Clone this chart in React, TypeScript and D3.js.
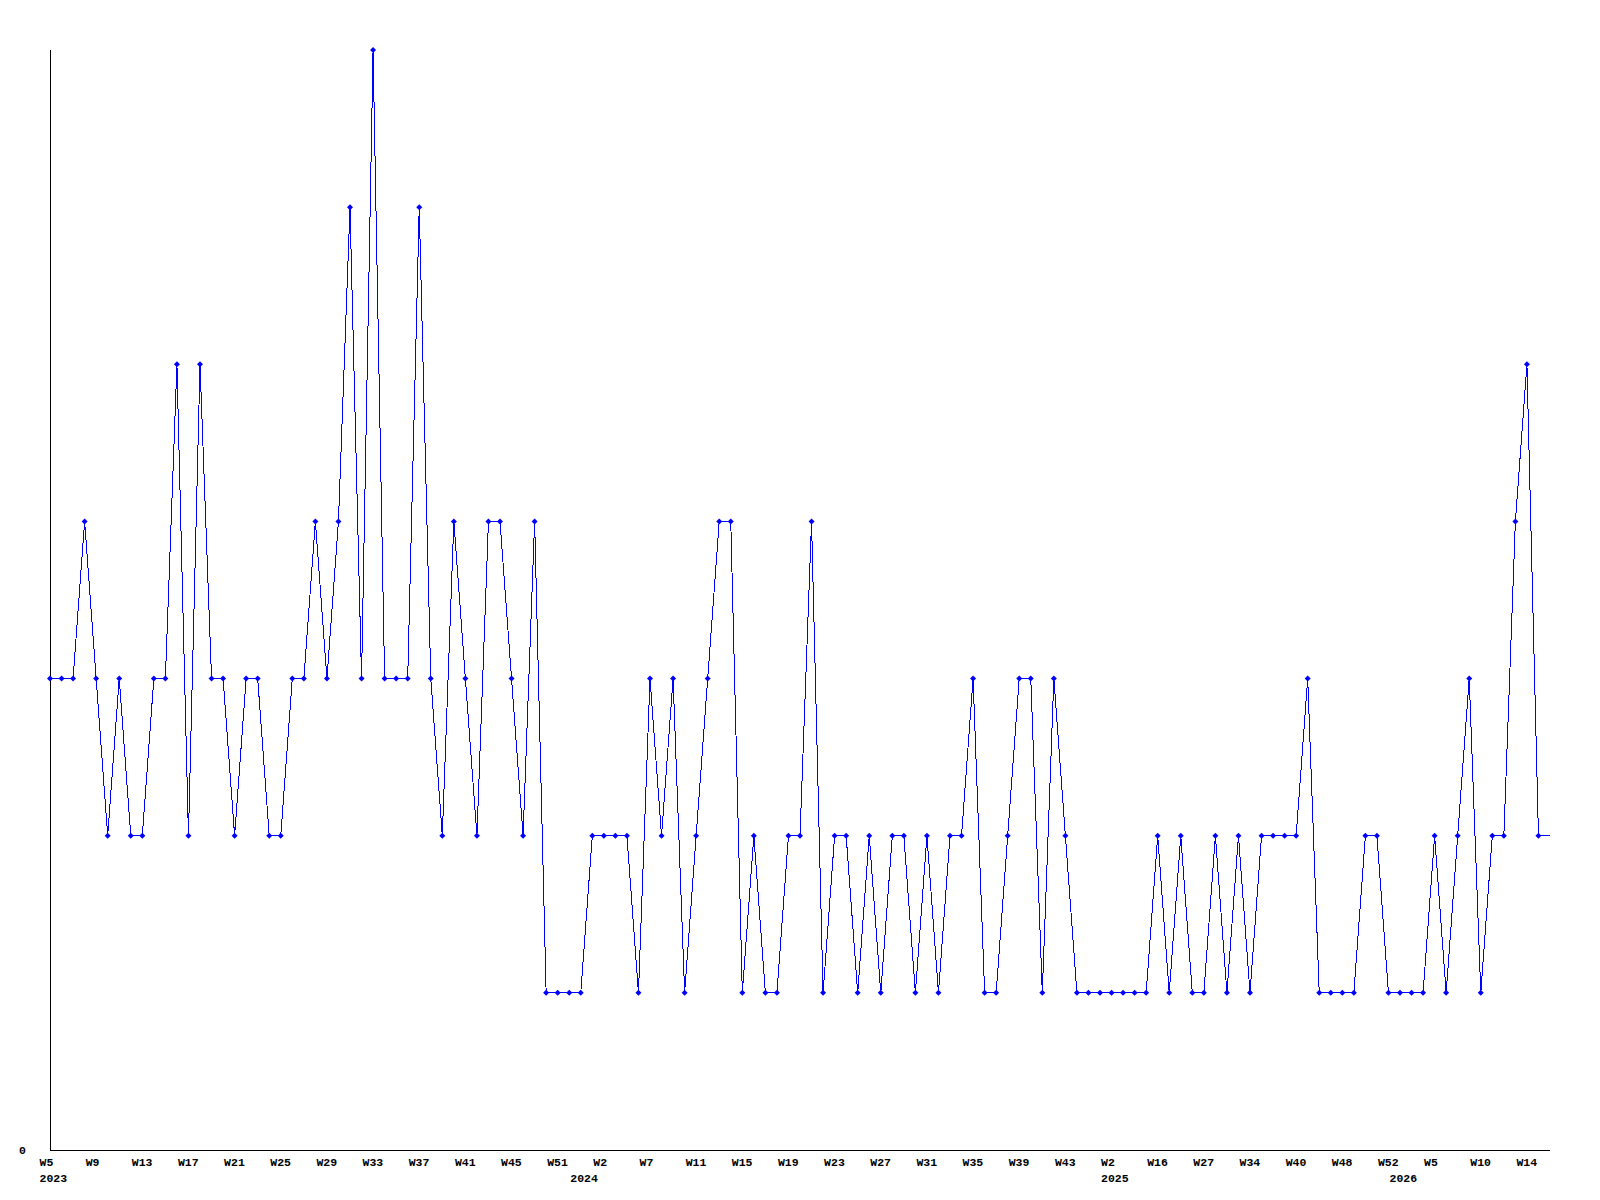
import React from "react";
import * as d3 from "d3";

// Weekly counts, one per data point (in order)
const values: number[] = [
  3, 3, 3, 4, 3, 2, 3, 2, 2, 3,
  3, 5, 2, 5, 3, 3, 2, 3, 3, 2,
  2, 3, 3, 4, 3, 4, 6, 3, 7, 3,
  3, 3, 6, 3, 2, 4, 3, 2, 4, 4,
  3, 2, 4, 1, 1, 1, 1, 2, 2, 2,
  2, 1, 3, 2, 3, 1, 2, 3, 4, 4,
  1, 2, 1, 1, 2, 2, 4, 1, 2, 2,
  1, 2, 1, 2, 2, 1, 2, 1, 2, 2,
  3, 1, 1, 2, 3, 3, 1, 3, 2, 1,
  1, 1, 1, 1, 1, 1, 2, 1, 2, 1,
  1, 2, 1, 2, 1, 2, 2, 2, 2, 3,
  1, 1, 1, 1, 2, 2, 1, 1, 1, 1,
  2, 1, 2, 3, 1, 2, 2, 4, 5, 2,
  2,
];

// Week tick labels, one every 4 data points
const weekTicks: string[] = [
  "W5", "W9", "W13", "W17", "W21", "W25", "W29", "W33", "W37", "W41", "W45",
  "W51", "W2", "W7", "W11", "W15", "W19", "W23", "W27", "W31", "W35", "W39", "W43",
  "W2", "W16", "W27", "W34", "W40", "W48", "W52", "W5", "W10", "W14",
];
const tickEvery = 4;

// Year labels and the data point where each year begins
const years: string[] = ["2023", "2024", "2025", "2026"];
const yearStart: number[] = [0, 46, 92, 117];

const yMax = 7;

export default function App() {
  const W = 1600, H = 1200;
  const left = 50, right = 1550, top = 50, bottom = 1150;
  const n = values.length;
  const x = d3.scaleLinear().domain([0, n - 1]).range([left, right]);
  const y = d3.scaleLinear().domain([0, yMax]).range([bottom, top]);
  const line = d3.line<number>().x((_, i) => x(i)).y((d) => y(d));
  const font = "'Liberation Mono', 'DejaVu Sans Mono', monospace";
  const blue = "#0000ff";
  return (
    <svg width={W} height={H} style={{ position: "absolute", left: 0, top: 0, background: "#fff" }}>
      <rect x={0} y={0} width={W} height={H} fill="#fff" />
      <line x1={left} y1={top} x2={left} y2={bottom} stroke="#000" strokeWidth={1} shapeRendering="crispEdges" />
      <line x1={left} y1={bottom} x2={right} y2={bottom} stroke="#000" strokeWidth={1} shapeRendering="crispEdges" />
      <text x={26} y={1154} textAnchor="end" fontFamily={font} fontWeight="bold" fontSize={11.5} fill="#000">0</text>
      <path d={line(values) || ""} fill="none" stroke={blue} strokeWidth={1} shapeRendering="crispEdges" />
      {values.slice(0, n - 1).map((v, i) => {
        const cx = x(i), cy = y(v);
        return (
          <path key={i} d={`M${cx - 3},${cy}L${cx},${cy - 3}L${cx + 3},${cy}L${cx},${cy + 3}Z`} fill={blue} stroke="none" />
        );
      })}
      {weekTicks.map((t, i) => (
        <text key={"w" + i} x={x(i * tickEvery) - 10.5} y={1166} fontFamily={font} fontWeight="bold" fontSize={11.5} fill="#000">{t}</text>
      ))}
      {years.map((yr, i) => (
        <text key={"y" + i} x={x(yearStart[i]) - 10.5} y={1181.5} fontFamily={font} fontWeight="bold" fontSize={11.5} fill="#000">{yr}</text>
      ))}
    </svg>
  );
}
